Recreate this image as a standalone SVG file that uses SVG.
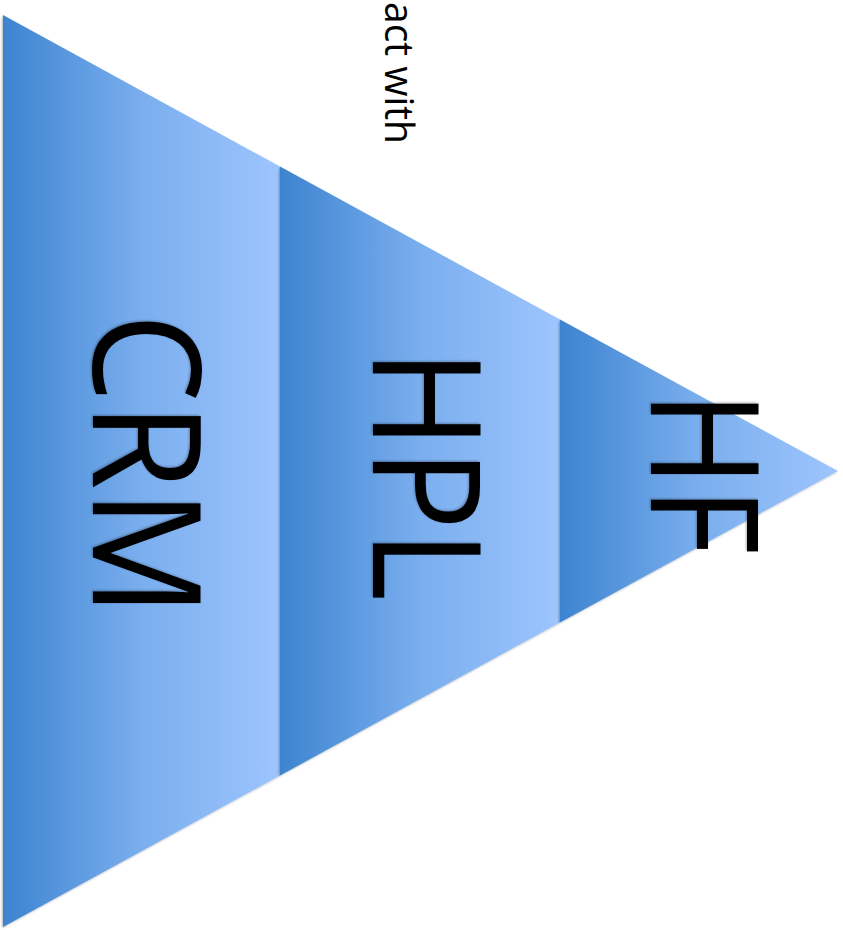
<svg xmlns="http://www.w3.org/2000/svg" width="843" height="930" viewBox="0 0 843 930">
  <style>
    .lbl { font-family: "Open Sans", "Liberation Sans", sans-serif; fill: #000; }
    .big { font-size: 150px; }
    .small { font-size: 40px; }
  </style>
  <defs>
    <linearGradient id="g" x1="0" y1="0" x2="1" y2="0">
      <stop offset="0" stop-color="#3d84d0"/>
      <stop offset="0.5" stop-color="#7aaeee"/>
      <stop offset="1" stop-color="#9ec5fe"/>
    </linearGradient>
    <filter id="sh" x="-5%" y="-5%" width="110%" height="110%">
      <feDropShadow dx="-1" dy="1" stdDeviation="1.2" flood-color="#000" flood-opacity="0.3"/>
    </filter>
    <filter id="tsh" x="-10%" y="-10%" width="120%" height="120%">
      <feDropShadow dx="-1" dy="1" stdDeviation="1" flood-color="#000" flood-opacity="0.3"/>
    </filter>
  </defs>
  <rect width="843" height="930" fill="#fff"/>

  <text class="lbl small" transform="translate(385,2) rotate(90)" textLength="142" lengthAdjust="spacingAndGlyphs">act with</text>

  <g id="crm">
    <polygon points="3,15 280,166.5 280,775.5 3,927" fill="url(#g)" filter="url(#sh)"/>
    <text class="lbl big" transform="translate(93,313) rotate(90)" textLength="304" lengthAdjust="spacingAndGlyphs" filter="url(#tsh)">CRM</text>
  </g>
  <g id="hpl">
    <polygon points="280,166.5 560,319.5 560,622.5 280,775.5" fill="url(#g)" filter="url(#sh)"/>
    <text class="lbl big" transform="translate(373,349) rotate(90)" textLength="252" lengthAdjust="spacingAndGlyphs" filter="url(#tsh)">HPL</text>
  </g>
  <g id="hf">
    <polygon points="560,319.5 838,471 560,622.5" fill="url(#g)" filter="url(#sh)"/>
    <text class="lbl big" transform="translate(651,391) rotate(90)" textLength="163" lengthAdjust="spacingAndGlyphs" filter="url(#tsh)">HF</text>
  </g>
  <g id="connectors"/>
</svg>
